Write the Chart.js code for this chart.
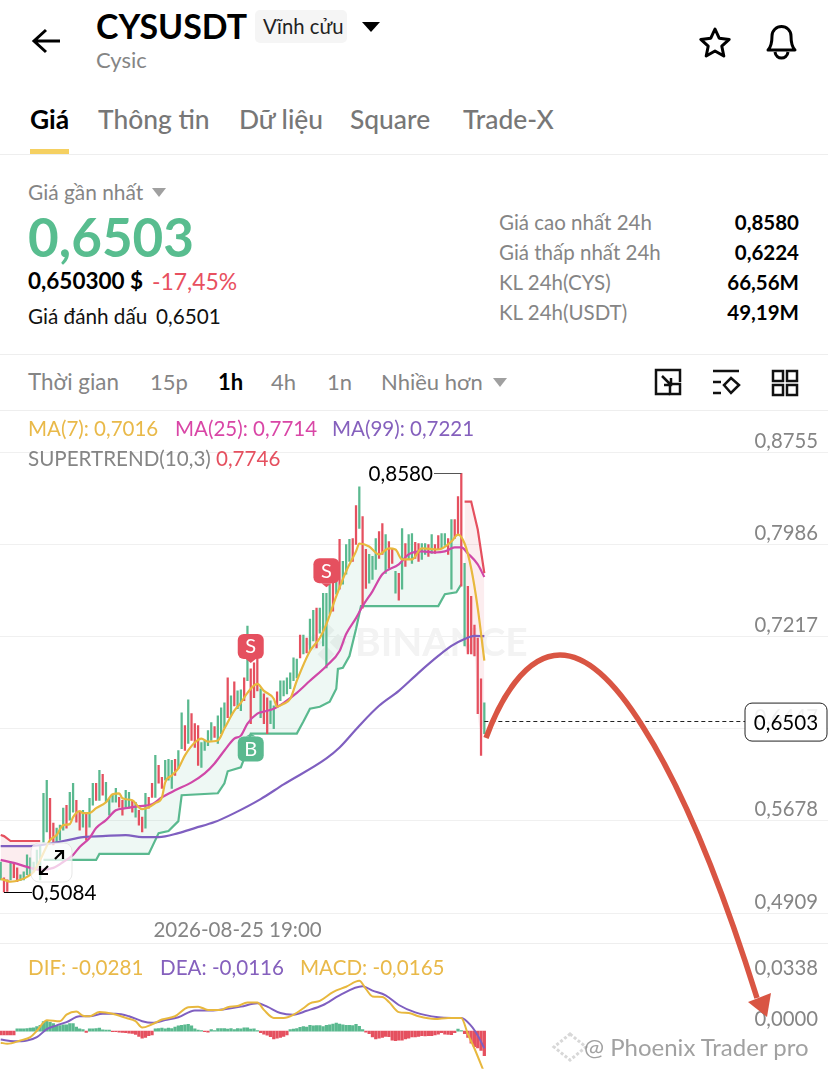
<!DOCTYPE html>
<html lang="vi"><head><meta charset="utf-8"><title>CYSUSDT</title>
<script src="https://cdn.jsdelivr.net/npm/chart.js@4"></script>
<style>
html,body{margin:0;padding:0;background:#fff;width:828px;height:1071px;overflow:hidden}
body{position:relative;font-family:Lato,"Noto Sans",sans-serif;color:#111}
.t{position:absolute;white-space:nowrap;line-height:1;transform:translateY(-50%)}
.g{color:#858585}
.hr{position:absolute;left:0;width:828px;height:1px;background:#eeeeee}
canvas{position:absolute;left:0;filter:blur(.35px)}
svg{position:absolute;left:0;top:0;pointer-events:none}
</style></head><body>
<canvas id="price" width="828" height="533" style="top:410px"></canvas>
<canvas id="macd" width="828" height="128" style="top:943px"></canvas>
<div class="hr" style="top:154px"></div><div class="hr" style="top:354px"></div><div class="hr" style="top:410px"></div><div class="hr" style="top:943px"></div>

<div class="t" style="left:96px;top:27px;font-size:33.9px;font-weight:700;color:#000">CYSUSDT</div>
<div style="position:absolute;left:255px;top:10px;width:92px;height:33px;background:#f5f5f5;border-radius:5px"></div>
<div class="t" style="left:263px;top:26px;font-size:20.3px;color:#222">Vĩnh cửu</div>
<div class="t g" style="left:96px;top:60px;font-size:22px">Cysic</div>

<div class="t" style="left:30px;top:118.5px;font-size:26.4px;font-weight:700;color:#000">Giá</div>
<div class="t" style="left:98px;top:118.5px;font-size:26.4px;font-weight:500;color:#777">Thông tin</div>
<div class="t" style="left:239px;top:118.5px;font-size:26.4px;font-weight:500;color:#777">Dữ liệu</div>
<div class="t" style="left:350px;top:118.5px;font-size:26.4px;font-weight:500;color:#777">Square</div>
<div class="t" style="left:463px;top:118.5px;font-size:26.4px;font-weight:500;color:#777">Trade-X</div>
<div style="position:absolute;left:30px;top:149px;width:39px;height:5px;background:#f5d061"></div>

<div class="t g" style="left:28px;top:192px;font-size:20.9px">Giá gần nhất</div>
<div class="t" style="left:28px;top:236px;font-size:53px;font-weight:700;color:#58bd8f">0,6503</div>
<div class="t" style="left:28px;top:281px;font-size:22.5px;font-weight:700;color:#000">0,650300 $</div>
<div class="t" style="left:152px;top:281px;font-size:22.9px;color:#e8505f">-17,45%</div>
<div class="t" style="left:28px;top:316px;font-size:20.7px;color:#111">Giá đánh dấu</div>
<div class="t" style="left:156px;top:316px;font-size:20.7px;color:#111">0,6501</div>

<div class="t g" style="left:499px;top:222px;font-size:20.5px">Giá cao nhất 24h</div>
<div class="t g" style="left:499px;top:252px;font-size:20.5px">Giá thấp nhất 24h</div>
<div class="t g" style="left:499px;top:282px;font-size:20.5px">KL 24h(CYS)</div>
<div class="t g" style="left:499px;top:312px;font-size:20.5px">KL 24h(USDT)</div>
<div class="t" style="right:29px;top:222px;font-size:20.5px;font-weight:700;color:#000">0,8580</div>
<div class="t" style="right:29px;top:252px;font-size:20.5px;font-weight:700;color:#000">0,6224</div>
<div class="t" style="right:29px;top:282px;font-size:20.5px;font-weight:700;color:#000">66,56M</div>
<div class="t" style="right:29px;top:312px;font-size:20.5px;font-weight:700;color:#000">49,19M</div>

<div class="t g" style="left:28px;top:382px;font-size:22.4px">Thời gian</div>
<div class="t g" style="left:150px;top:382px;font-size:22px">15p</div>
<div class="t" style="left:218px;top:382px;font-size:22px;font-weight:700;color:#000">1h</div>
<div class="t g" style="left:271px;top:382px;font-size:22px">4h</div>
<div class="t g" style="left:327px;top:382px;font-size:22px">1n</div>
<div class="t g" style="left:381px;top:382px;font-size:22px">Nhiều hơn</div>

<div class="t" style="left:28px;top:428px;font-size:20.5px;color:#e9b949">MA(7): 0,7016</div>
<div class="t" style="left:175px;top:428px;font-size:20.5px;color:#d946a6">MA(25): 0,7714</div>
<div class="t" style="left:332px;top:428px;font-size:20.5px;color:#8560bd">MA(99): 0,7221</div>
<div class="t g" style="left:28px;top:458px;font-size:20.6px">SUPERTREND(10,3)</div>
<div class="t" style="left:216px;top:458px;font-size:20.6px;color:#e5505f">0,7746</div>

<div class="t" style="left:28px;top:967px;font-size:20.6px;color:#e9b949">DIF: -0,0281</div>
<div class="t" style="left:160px;top:967px;font-size:20.6px;color:#8560bd">DEA: -0,0116</div>
<div class="t" style="left:300px;top:967px;font-size:20.6px;color:#e9b949">MACD: -0,0165</div>

<svg width="828" height="1071" viewBox="0 0 828 1071" fill="none">
  <!-- header icons -->
  <path d="M60 41H34M46 30L34 41L46 52" stroke="#000" stroke-width="3"/>
  <path d="M362 22H380L371 32Z" fill="#000"/>
  <path d="M715 29l4.2 9.2 10 1.2-7.4 6.8 2 9.8-8.800-5-8.800 5 2-9.800-7.400-6.800 10-1.200z" stroke="#000" stroke-width="3" stroke-linejoin="round"/>
  <path d="M768 50c3-3 4-6 4-14a9.500 9.500 0 0 1 19 0c0 8 1 11 4 14zM775 52c1 8 12 8 13 0" stroke="#000" stroke-width="3" stroke-linejoin="round"/>
  <path d="M152 188H166L159 197Z" fill="#a0a0a0"/>
  <path d="M493 378H507L500 387Z" fill="#a0a0a0"/>
  <!-- toolbar icons -->
  <g stroke="#111" stroke-width="2.500">
    <path d="M668 370H656V394H670M668 370H680V382"/><rect x="670" y="384" width="10" height="10"/><path d="M662 376L671 385M671 378V385H664"/>
    <path d="M713 371H739M713 382H721M713 393H721"/><path d="M731 378l8 7-8 8-7-8z"/>
    <rect x="773" y="371" width="10" height="10"/><rect x="787" y="371" width="10" height="10"/><rect x="773" y="385" width="10" height="10"/><rect x="787" y="385" width="10" height="10"/>
  </g>
  <!-- zoom button over the chart -->
  <rect x="31" y="843" width="41" height="39" rx="8" fill="rgba(255,255,255,.72)" stroke="rgba(225,225,225,.8)"/>
  <path d="M40 874L48 866M40 866V874H48M55 859L63 851M55 851H63V859" stroke="#000" stroke-width="2.200"/>
  <!-- hand-drawn arrow annotation -->
  <path d="M486 738C500 700 525 655 560 655C590 655 620 690 643 727C680 785 720 880 757 998" stroke="#d95543" stroke-width="5.500"/>
  <path d="M748 1002L771 993L767 1017Z" fill="#d95543"/>
  <!-- source mark -->
  <path d="M570 1034L586 1047L570 1060L554 1047Z" stroke="#d8d8d8" stroke-width="3" stroke-dasharray="3 2"/>
</svg>
<div class="t" style="left:584px;top:1047px;font-size:24px;color:rgba(130,130,130,.75)">@ Phoenix Trader pro</div>

<script>
const candleHighs=[.5335,.5203,.5186,.5335,.5327,.5286,.5228,.5252,.5394,.5369,.5335,.5435,.5477,.5908,.6017,.5867,.5659,.5618,.5643,.5784,.5809,.5917,.5992,.5850,.5751,.5767,.5743,.5867,.5992,.5992,.6100,.6067,.6000,.5867,.5892,.5950,.5875,.5850,.5933,.5917,.5850,.5834,.5767,.5709,.5908,.5875,.5992,.6225,.6142,.6042,.6183,.6191,.6183,.6191,.6266,.6581,.6473,.6689,.6573,.6490,.6473,.6332,.6349,.6432,.6498,.6465,.6556,.6623,.6664,.6872,.6722,.6839,.6764,.6772,.6872,.7304,.6947,.6997,.7030,.6781,.6739,.6706,.6681,.6639,.6756,.6848,.6848,.6872,.6914,.7039,.7030,.7230,.7230,.7205,.7363,.7437,.7454,.7454,.7579,.7579,.7654,.7679,.7762,.8028,.7845,.7986,.8028,.8036,.8310,.8468,.8219,.7945,.7903,.7887,.8036,.8094,.8161,.8069,.8011,.7953,.7762,.7745,.8119,.7994,.8069,.8077,.8003,.7994,.7994,.7994,.7986,.8069,.7986,.8061,.8077,.8077,.8036,.8194,.8194,.8385,.8580,.7828,.7637,.7554,.7313,.7205,.6864,.6664];
const candleLows=[.5186,.5084,.5090,.5186,.5203,.5170,.5178,.5186,.5228,.5228,.5252,.5286,.5186,.5501,.5585,.5518,.5477,.5501,.5518,.5601,.5618,.5684,.5751,.5668,.5601,.5626,.5518,.5626,.5809,.5850,.5850,.5892,.5834,.5726,.5834,.5834,.5792,.5726,.5792,.5784,.5751,.5709,.5643,.5585,.5618,.5784,.5875,.5875,.5992,.5950,.6017,.6017,.5950,.6058,.6117,.6282,.6266,.6324,.6349,.6291,.6142,.6125,.6266,.6307,.6349,.6374,.6324,.6407,.6457,.6540,.6556,.6639,.6615,.6598,.6681,.6848,.6490,.6706,.6764,.6540,.6490,.6407,.6490,.6449,.6623,.6681,.6722,.6739,.6781,.6848,.6872,.7039,.7072,.7080,.7097,.7180,.7122,.7246,.7139,.6956,.7404,.7429,.7571,.7612,.7654,.7737,.7845,.7845,.7986,.8119,.7454,.7620,.7662,.7695,.7778,.7870,.7903,.7745,.7787,.7828,.7579,.7521,.7612,.7803,.7861,.7828,.7870,.7845,.7861,.7903,.7887,.7911,.7911,.7944,.7953,.7978,.7903,.7612,.8036,.8069,.7637,.7139,.7072,.7072,.7055,.6573,.6224,.6407];
const candleUp="grrgrrgggggggggrrgggrggrrgrggrgrggggrrggrgrrgrrgrrgggrggrgrrrggggrgggrgrggrgrrrgrrggrggggggrgrggrggggrgrgggrrgrrgggrrgrrgrgrggrrggrgrrggrgrrrgrrrrr";
const ma7Idx=[0,1,3,6,8,10,12,15,17,19,21,22,24,25,27,29,32,34,36,37,40,42,43,45,47,49,50,52,54,56,59,61,63,66,68,71,73,75,78,80,83,84,86,88,90,94,97,99,102,105,108,109,112,115,118,120,122,125,128,133,137,139,141,143,145,147];
const ma7Vals=[.5194,.5186,.5170,.5186,.5211,.5252,.5352,.5518,.5560,.5643,.5651,.5709,.5759,.5743,.5743,.5784,.5834,.5900,.5908,.5867,.5850,.5792,.5776,.5792,.5826,.5875,.6000,.6058,.6117,.6225,.6332,.6365,.6340,.6349,.6449,.6598,.6664,.6747,.6822,.6764,.6698,.6631,.6656,.6698,.6848,.7097,.7205,.7321,.7554,.7762,.7928,.7994,.7969,.7903,.7953,.7944,.7861,.7861,.7953,.7944,.8011,.8069,.7994,.7787,.7454,.7016];
const ma25Idx=[0,4,8,12,16,19,22,24,27,29,32,35,38,42,46,49,53,58,62,65,68,71,73,75,78,80,83,86,90,94,99,103,105,108,110,113,116,121,124,128,132,135,138,140,142,145,147];
const ma25Vals=[.5352,.5327,.5294,.5269,.5286,.5335,.5394,.5460,.5535,.5618,.5684,.5767,.5784,.5801,.5817,.5875,.5933,.6000,.6075,.6158,.6266,.6365,.6390,.6490,.6573,.6590,.6615,.6664,.6747,.6848,.6972,.7097,.7238,.7371,.7471,.7595,.7737,.7820,.7903,.7928,.7919,.7928,.7961,.7961,.7911,.7820,.7714];
const ma99Idx=[0,9,19,25,31,38,43,48,54,59,65,71,79,86,99,103,109,115,121,127,133,137,141,144,147];
const ma99Vals=[.5468,.5468,.5510,.5543,.5551,.5560,.5543,.5543,.5576,.5618,.5668,.5743,.5860,.5983,.6200,.6291,.6473,.6639,.6764,.6914,.7055,.7139,.7197,.7222,.7221];
const trendUpIdx=[13,29,30,45,48,51,54,55,66,68,69,73,74,76,90,92,94,97,100,102,102.5,104,106,108,109.5,133,135,138.500,140];
const trendUpVals=[.5352,.5352,.5402,.5402,.5576,.5593,.5676,.5892,.5909,.5992,.6092,.6125,.6200,.6407,.6407,.6507,.6615,.6631,.6673,.6781,.6947,.6956,.7055,.7280,.7471,.7471,.7571,.7587,.7654];
const trendDownLeftIdx=[0,1,3,12];
const trendDownLeftVals=[.5560,.5551,.5510,.5510];
const trendDownRightIdx=[141,143,145,147];
const trendDownRightVals=[.8344,.8344,.8111,.7746];
const closeEdgeIdx=[141,142,143,144,145,146,147];
const closeEdgeVals=[.7139,.7072,.7072,.7055,.6573,.6432,.6503];
const macdHist=[-.0026,-.0026,-.0026,-.0026,-.0026,.0015,.0015,.0015,.0017,.0020,.0022,.0030,.0039,.0065,.0072,.0059,.0050,.0037,.0037,.0043,.0043,.0050,.0050,.0028,.0015,.0011,-.0009,.0015,.0015,.0017,.0020,.0009,.0007,.0007,-.0004,-.0004,-.0007,-.0009,-.0011,-.0013,-.0015,-.0022,-.0035,-.0048,-.0043,-.0030,-.0026,.0015,.0017,.0020,.0015,.0020,.0017,.0028,.0035,.0039,.0043,.0046,.0035,.0015,.0007,.0004,-.0004,-.0007,.0011,.0004,.0017,.0017,.0017,.0013,.0017,.0011,.0017,.0015,.0022,.0022,.0013,.0015,.0004,-.0011,-.0020,-.0028,-.0037,-.0052,-.0048,-.0043,-.0035,-.0026,.0011,.0013,.0017,.0026,.0030,.0028,.0039,.0035,.0037,.0037,.0030,.0039,.0043,.0048,.0054,.0048,.0043,.0039,.0039,.0037,.0046,.0033,.0011,-.0007,-.0017,-.0039,-.0052,-.0048,-.0043,-.0035,-.0037,-.0061,-.0065,-.0061,-.0061,-.0052,-.0048,-.0039,-.0039,-.0035,-.0030,-.0033,-.0030,-.0030,-.0026,-.0020,-.0011,-.0020,-.0022,-.0024,-.0011,.0013,.0004,-.0017,-.0043,-.0082,-.0104,-.0113,-.0130,-.0165];
const difIdx=[0,2,6,9,11,14,18,20,23,25,27,30,34,38,41,43,46,49,53,57,60,63,67,69,72,75,78,80,83,86,89,92,94,97,101,105,109,111,113,116,118,121,124,127,132,136,140,142,144,147];
const difVals=[-.0078,-.0085,-.0063,-.0041,.0002,.0074,.0067,.0111,.0132,.0104,.0100,.0128,.0117,.0089,.0067,.0024,.0046,.0078,.0100,.0161,.0165,.0143,.0143,.0161,.0169,.0193,.0193,.0143,.0089,.0089,.0111,.0154,.0187,.0204,.0263,.0299,.0339,.0284,.0234,.0230,.0197,.0128,.0122,.0100,.0082,.0089,.0089,-.0020,-.0117,-.0281];
const deaIdx=[0,4,8,11,14,17,20,24,27,31,35,39,43,46,50,54,59,64,68,73,78,81,85,89,93,98,103,110,113,117,121,126,133,137,140,143,145,147];
const deaVals=[-.0056,-.0069,-.0063,-.0041,.0013,.0039,.0061,.0100,.0100,.0117,.0117,.0100,.0067,.0056,.0074,.0093,.0139,.0139,.0148,.0165,.0187,.0165,.0122,.0111,.0137,.0176,.0241,.0302,.0273,.0241,.0176,.0126,.0093,.0089,.0089,.0035,-.0030,-.0116];
const priceTicks=[.8755,.7986,.7217,.6447,.5678,.4909];
const macdTicks=[.0338,0];
const timeIdx=[72];
const timeLabels=["2026-08-25 19:00"];
const lastPrice=.6503;
const signalIdx=[76,99,76];
const signalVals=[.6997,.7629,.6407];
const signalKinds=["S","S","B"];

const FONT='Lato,"Noto Sans",sans-serif', GREEN='#5ab98f', RED='#e5505f', YEL='#e8b83e', PINK='#d048a8', PUR='#7f5fc0', GRID='#f0f0f0', GREY='#858585';
const fmt=v=>v.toFixed(4).replace('.',',');
const xy=(a,b)=>a.map((x,i)=>({x,y:b[i]}));
const xAxis={min:-.213,max:251.46};
const upCol=c=>c==='g'?GREEN:RED;
const line=(idx,vals,color,extra)=>Object.assign({type:'line',data:xy(idx,vals),borderColor:color,borderWidth:2.2,pointRadius:0,cubicInterpolationMode:'monotone',order:1,fill:false},extra);

const overlay={id:'overlay',
 beforeDatasetsDraw(ch){const c=ch.ctx,s=ch.scales.y;c.save();
  c.fillStyle='#f3f3f3';c.font='700 39px '+FONT;c.textAlign='left';c.textBaseline='middle';
  c.fillText('BINANCE',355,s.getPixelForValue(.7163));
  c.translate(326,s.getPixelForValue(.7163));c.rotate(Math.PI/4);c.fillRect(-15,-15,12,12);c.fillRect(-15,2,12,12);c.fillRect(2,-15,12,12);c.fillRect(2,2,12,12);
  c.restore();},
 afterDatasetsDraw(ch){const c=ch.ctx,X=ch.scales.x,Y=ch.scales.y;c.save();
  signalIdx.forEach((ix,k)=>{const kind=signalKinds[k],x=X.getPixelForValue(ix),tip=Y.getPixelForValue(signalVals[k]),dir=kind==='S'?-1:1;
   const col=kind==='S'?RED:GREEN,w=26,h=25,top=dir<0?tip-h-4:tip+3;
   c.fillStyle=col;c.beginPath();c.roundRect(x-w/2,top,w,h,6);c.fill();
   c.beginPath();c.moveTo(x-5,dir<0?top+h:top);c.lineTo(x,tip);c.lineTo(x+5,dir<0?top+h:top);c.fill();
   c.fillStyle='#fff';c.font='20px '+FONT;c.textAlign='center';c.textBaseline='middle';c.fillText(kind,x,top+h/2+.5);});
  const hi=candleHighs.indexOf(Math.max(...candleHighs)),lo=candleLows.indexOf(Math.min(...candleLows));
  c.lineWidth=1;c.strokeStyle='#555';c.fillStyle='#000';c.font='20.6px '+FONT;c.textBaseline='middle';
  let y=Y.getPixelForValue(candleHighs[hi]),x=X.getPixelForValue(hi);
  c.beginPath();c.moveTo(434,Math.round(y)+.5);c.lineTo(x,Math.round(y)+.5);c.stroke();c.textAlign='right';c.fillText(fmt(candleHighs[hi]),433,y+1);
  y=Y.getPixelForValue(candleLows[lo]);x=X.getPixelForValue(lo);
  c.strokeStyle='#000';c.beginPath();c.moveTo(x,Math.round(y)+.5);c.lineTo(32,Math.round(y)+.5);c.stroke();c.textAlign='left';c.fillText(fmt(candleLows[lo]),32,y+1);
  y=Y.getPixelForValue(lastPrice);x=X.getPixelForValue(candleHighs.length-1);
  c.setLineDash([4,3]);c.strokeStyle='#222';c.beginPath();c.moveTo(x,Math.round(y)-.5);c.lineTo(745,Math.round(y)-.5);c.stroke();c.setLineDash([]);
  c.fillStyle='rgba(255,255,255,.88)';c.strokeStyle='#222';c.beginPath();c.roundRect(745,y-19,82,38,7);c.fill();c.stroke();
  c.fillStyle='#000';c.textAlign='center';c.fillText(fmt(lastPrice),786,y+1);
  c.restore();}};

new Chart(document.getElementById('price'),{type:'bar',plugins:[overlay],data:{datasets:[
 line(ma7Idx,ma7Vals,YEL),
 line(ma25Idx,ma25Vals,PINK),
 line(ma99Idx,ma99Vals,PUR),
 {type:'bar',data:candleHighs.map((h,i)=>({x:i,y:[candleLows[i],h]})),backgroundColor:candleUp.split('').map(upCol),barThickness:1.6,grouped:false,order:3},
 line(trendUpIdx,trendUpVals,GREEN,{cubicInterpolationMode:'default',tension:0,order:4,fill:{target:0,above:'rgba(90,185,143,.1)',below:'rgba(90,185,143,.1)'}}),
 line(trendDownLeftIdx,trendDownLeftVals,RED,{cubicInterpolationMode:'default',tension:0,order:4,fill:{target:0,above:'rgba(229,80,95,.1)',below:'rgba(229,80,95,.1)'}}),
 line(closeEdgeIdx,closeEdgeVals,'rgba(0,0,0,0)',{borderWidth:0,order:6}),
 line(trendDownRightIdx,trendDownRightVals,RED,{cubicInterpolationMode:'default',tension:0,order:4,fill:{target:6,above:'rgba(229,80,95,.1)',below:'rgba(229,80,95,.1)'}})
]},options:{responsive:false,animation:false,devicePixelRatio:1,layout:{padding:0},
 plugins:{legend:{display:false},tooltip:{enabled:false}},
 scales:{
  x:{type:'linear',offset:false,...xAxis,afterBuildTicks:s=>{s.ticks=timeIdx.map(value=>({value}))},afterFit:s=>{s.height=30},
     border:{display:false},grid:{color:GRID,drawTicks:false},
     ticks:{autoSkip:false,maxRotation:0,padding:5,color:GREY,font:{family:FONT,size:20.5},callback:(v)=>timeLabels[timeIdx.indexOf(v)]}},
  y:{position:'right',min:.4909,max:.90905,afterBuildTicks:s=>{s.ticks=priceTicks.map(value=>({value}))},afterFit:s=>{s.width=0},
     border:{display:false},grid:{color:GRID,drawTicks:false},
     ticks:{mirror:true,crossAlign:'near',padding:-10,labelOffset:-11,color:GREY,font:{family:FONT,size:20.3},callback:fmt}}
 }}});

new Chart(document.getElementById('macd'),{type:'bar',data:{datasets:[
 line(difIdx,difVals,YEL,{borderWidth:2}),
 line(deaIdx,deaVals,PUR,{borderWidth:2}),
 {type:'bar',data:macdHist.map((y,x)=>({x,y})),backgroundColor:macdHist.map(v=>v>=0?GREEN:RED),barThickness:2.6,grouped:false,order:3}
]},options:{responsive:false,animation:false,devicePixelRatio:1,layout:{padding:0},
 plugins:{legend:{display:false},tooltip:{enabled:false}},
 scales:{
  x:{type:'linear',offset:false,...xAxis,afterBuildTicks:s=>{s.ticks=timeIdx.map(value=>({value}))},afterFit:s=>{s.height=0},
     border:{display:false},grid:{color:GRID,drawTicks:false},ticks:{display:false}},
  y:{position:'right',min:-.0254,max:.0579,afterBuildTicks:s=>{s.ticks=macdTicks.map(value=>({value}))},afterFit:s=>{s.width=0},
     border:{display:false},grid:{display:false},
     ticks:{mirror:true,crossAlign:'near',padding:-10,labelOffset:-12,color:GREY,font:{family:FONT,size:20.3},callback:fmt}}
 }}});
</script>
</body></html>
